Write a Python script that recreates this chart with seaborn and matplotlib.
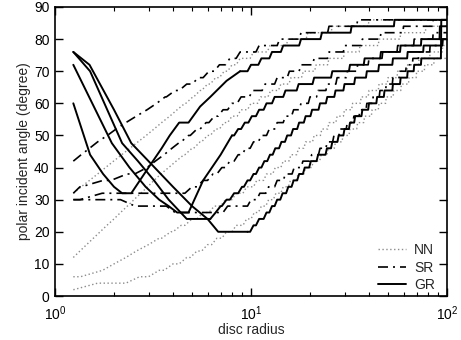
import numpy as np
import pandas as pd
import matplotlib
matplotlib.use("Agg")
import matplotlib.pyplot as plt
import seaborn as sns
from matplotlib.ticker import LogLocator, MultipleLocator, NullFormatter

# ---------------- data ----------------
# GR: falling part (straight segments) + rising part as 2-degree levels
gr1_head_r = [1.24, 1.51, 1.76, 2.0, 2.2, 2.45, 3.0, 3.5, 3.85, 4.3, 4.8, 5.5, 6.2, 7.5, 8.8]
gr1_head_a = [60, 44, 38, 34, 32, 32, 40, 46, 50, 54, 54, 59, 62, 67, 70]
gr1_tail_r = [8.8, 10, 11.3, 12.8, 14.6, 18, 23, 32.6, 54, 100]
gr1_tail_a = [70, 72, 74, 76, 78, 80, 82, 84, 86, 86]

gr2_head_r = [1.24, 1.95, 2.4, 2.9, 3.4, 3.8, 4.2, 4.8, 5.7, 7.0, 8.0]
gr2_head_a = [72, 47.6, 40, 34, 30, 28, 26, 26, 36, 44, 50]
gr2_tail_r = [8.0, 8.6, 9.3, 10.1, 11, 12, 13.2, 15, 17.5, 21, 26, 32, 38, 46, 58, 74, 92, 100]
gr2_tail_a = [50, 52, 54, 56, 58, 60, 62, 64, 66, 68, 70, 72, 74, 76, 78, 80, 84, 84]

gr3_head_r = [1.24, 1.51, 2.2, 2.65, 3.2, 3.8, 4.7, 6.2]
gr3_head_a = [76, 70, 47.6, 42, 36, 30, 24, 24]
gr3_tail_r = [6.2, 6.6, 7.0, 7.5, 8.2, 9.0, 9.6, 10.3, 11, 11.7, 12.5, 13.3, 14.3, 15.3, 16.4,
              17.6, 19, 20.5, 22.5, 24.5, 27, 30, 34, 39, 45, 53, 63, 76, 95, 100]
gr3_tail_a = [24, 26, 28, 30, 32, 34, 36, 38, 40, 42, 44, 46, 48, 50, 52,
              54, 56, 58, 60, 62, 64, 66, 68, 70, 72, 74, 76, 78, 80, 80]

gr4_head_r = [1.24, 1.5, 2.0, 2.45, 3.0, 4.0, 5.0, 6.0, 6.8, 9.6]
gr4_head_a = [76, 72, 58, 47.6, 42, 34, 28, 24, 20, 20]
gr4_tail_r = [9.6, 10.3, 11, 12, 12.8, 13.6, 14.5, 15.5, 16.5, 17.6, 18.8, 20.2, 22, 24.4, 26,
              28, 30, 32, 34, 37, 40, 44, 48, 53, 58, 63, 68, 74, 93.5, 100]
gr4_tail_a = [20, 22, 24, 26, 28, 30, 32, 34, 36, 38, 40, 42, 44, 46, 48,
              50, 52, 54, 56, 58, 60, 62, 64, 66, 68, 70, 72, 74, 86, 86]

# SR: 2-degree levels and the radius where each level begins
sr1_r = [1.24, 1.36, 1.5, 1.65, 1.85, 2.05, 2.3, 2.6, 2.95, 3.3, 3.65, 4.1, 4.7, 5.4, 6.1,
         6.9, 7.8, 8.8, 11, 14, 18, 25, 35, 100]
sr1_a = [42, 44, 46, 48, 50, 52, 54, 56, 58, 60, 62, 64, 66, 68, 70,
         72, 74, 76, 78, 80, 82, 84, 86, 86]
sr2_r = [1.24, 1.34, 1.76, 2.33, 2.95, 3.25, 3.6, 3.95, 4.35, 4.8, 5.3, 5.9, 6.5, 7.2, 8.0,
         8.9, 10.2, 11.8, 13.6, 15.7, 18, 21, 25, 30, 37, 46, 60, 85, 100]
sr2_a = [32, 34, 36, 38, 40, 42, 44, 46, 48, 50, 52, 54, 56, 58, 60,
         62, 64, 66, 68, 70, 72, 74, 76, 78, 80, 82, 84, 86, 86]
sr3_r = [1.24, 1.74, 5.0, 5.7, 6.4, 7.1, 7.8, 8.6, 9.4, 10.3, 11.3, 12.4, 13.6, 15, 16.5,
         18, 20, 22, 24.5, 27.5, 31, 35, 40, 47, 56, 68, 85, 100]
sr3_a = [30, 32, 34, 36, 38, 40, 42, 44, 46, 48, 50, 52, 54, 56, 58,
         60, 62, 64, 66, 68, 70, 72, 74, 76, 78, 80, 82, 82]
sr4_r = [1.24, 2.56, 4.1, 7.6, 10, 11.1, 12.3, 13.6, 15, 16.6, 18.4, 20.4, 22.5, 24.5, 26.5,
         28.5, 31, 33.5, 36, 39, 42, 45.5, 49, 53, 57.5, 62, 67, 72, 82, 95, 100]
sr4_a = [30, 28, 26, 28, 30, 32, 34, 36, 38, 40, 42, 44, 46, 48, 50,
         52, 54, 56, 58, 60, 62, 64, 66, 68, 70, 72, 74, 76, 78, 80, 80]

# NN: 2-degree levels and the radius where each level begins
nn1_r = [1.24, 1.36, 1.5, 1.65, 1.81, 1.99, 2.19, 2.41, 2.65, 2.92, 3.2, 3.5, 3.85, 4.2, 4.6,
         5.05, 5.5, 6.0, 6.6, 7.3, 8.0, 8.8, 10.3, 12.5, 15.5, 19.5, 26, 40, 100]
nn1_a = [32, 34, 36, 38, 40, 42, 44, 46, 48, 50, 52, 54, 56, 58, 60,
         62, 64, 66, 68, 70, 72, 74, 76, 78, 80, 82, 84, 86, 86]
nn2_r = [1.24, 1.34, 1.45, 1.57, 1.7, 1.84, 2.0, 2.16, 2.34, 2.53, 2.74, 2.97, 3.2, 3.47, 3.8,
         4.15, 4.55, 5.0, 5.5, 6.0, 6.6, 7.3, 8.0, 8.9, 10, 11.2, 12.6, 14.2, 16, 18.5,
         21.5, 25, 30, 36, 45, 58, 78, 100]
nn2_a = [12, 14, 16, 18, 20, 22, 24, 26, 28, 30, 32, 34, 36, 38, 40,
         42, 44, 46, 48, 50, 52, 54, 56, 58, 60, 62, 64, 66, 68, 70,
         72, 74, 76, 78, 80, 82, 84, 84]
nn3_r = [1.24, 1.75, 2.0, 2.3, 2.6, 3.0, 3.4, 3.9, 4.4, 5.0, 5.7, 6.5, 7.4, 8.4, 9.5,
         10.7, 12, 13.3, 14.6, 16, 17.5, 19, 21, 23, 25, 27.5, 30, 33, 36.5, 40,
         45, 50, 56, 63, 72, 82, 95, 100]
nn3_a = [6, 8, 10, 12, 14, 16, 18, 20, 22, 24, 26, 28, 30, 32, 34,
         36, 38, 40, 42, 44, 46, 48, 50, 52, 54, 56, 58, 60, 62, 64,
         66, 68, 70, 72, 74, 76, 78, 78]
nn4_r = [1.24, 1.65, 2.7, 3.4, 4.0, 4.7, 5.3, 6.0, 6.7, 7.5, 8.4, 9.5, 10.4, 11.3, 12.3,
         13.4, 14.6, 15.9, 17.4, 19, 20.8, 22.8, 24.8, 27, 29.5, 32, 35, 38, 41.5, 45,
         49, 53.5, 58.5, 64, 70, 77, 86, 100]
nn4_a = [2, 4, 6, 8, 10, 12, 14, 16, 18, 20, 22, 24, 26, 28, 30,
         32, 34, 36, 38, 40, 42, 44, 46, 48, 50, 52, 54, 56, 58, 60,
         62, 64, 66, 68, 70, 72, 74, 74]

nn_curves = [(nn1_r, nn1_a), (nn2_r, nn2_a), (nn3_r, nn3_a), (nn4_r, nn4_a)]
sr_curves = [(sr1_r, sr1_a), (sr2_r, sr2_a), (sr3_r, sr3_a), (sr4_r, sr4_a)]
gr_curves = [((gr1_head_r, gr1_head_a), (gr1_tail_r, gr1_tail_a)),
             ((gr2_head_r, gr2_head_a), (gr2_tail_r, gr2_tail_a)),
             ((gr3_head_r, gr3_head_a), (gr3_tail_r, gr3_tail_a)),
             ((gr4_head_r, gr4_head_a), (gr4_tail_r, gr4_tail_a))]

styles = {
    "NN": dict(color="#8c8c8c", linestyle=(0, (1, 1.8)), linewidth=1.0),
    "SR": dict(color="black", linestyle=(0, (6, 3, 1.2, 3)), linewidth=1.2),
    "GR": dict(color="black", linestyle="-", linewidth=1.4),
}
RISER = 0.4  # width (in radius units) of each sloping riser between levels

sns.set_theme(style="white")
plt.rcParams["font.family"] = ["Liberation Sans", "DejaVu Sans"]

fig = plt.figure(figsize=(4.61, 3.40), dpi=100)
ax = fig.add_axes([55 / 461, 1 - 296 / 340, (447 - 55) / 461, (296 - 7) / 340])


def stair_path(r, a):
    pr, pa = [r[0]], [a[0]]
    for k in range(1, len(r)):
        if a[k] != a[k - 1]:
            start = max(r[k - 1], r[k] - RISER)
            pr.append(start)
            pa.append(a[k - 1])
        pr.append(r[k])
        pa.append(a[k])
    return pr, pa


def draw(r, a, style, label=None, steps=False):
    if steps:
        r, a = stair_path(r, a)
    df = pd.DataFrame({"r": r, "a": a})
    sns.lineplot(data=df, x="r", y="a", ax=ax, sort=False, estimator=None,
                 label=label, **style)


for i, (r, a) in enumerate(nn_curves):
    draw(r, a, styles["NN"], "NN" if i == 0 else None, steps=True)
for i, (r, a) in enumerate(sr_curves):
    draw(r, a, styles["SR"], "SR" if i == 0 else None, steps=True)
for i, (head, tail) in enumerate(gr_curves):
    draw(head[0], head[1], styles["GR"], "GR" if i == 0 else None)
    draw(tail[0], tail[1], styles["GR"], None, steps=True)

ax.set_xscale("log")
ax.set_xlim(1, 100)
ax.set_ylim(0, 90)
ax.yaxis.set_major_locator(MultipleLocator(10))
ax.xaxis.set_major_locator(LogLocator(base=10))
ax.xaxis.set_minor_locator(LogLocator(base=10, subs=np.arange(2, 10)))
ax.xaxis.set_minor_formatter(NullFormatter())
ax.tick_params(axis="both", which="both", direction="in", top=True, right=True,
               bottom=True, left=True, labelsize=10, colors="black")
ax.tick_params(which="major", length=6, width=1)
ax.tick_params(which="minor", length=3, width=0.8)
ax.tick_params(axis="x", which="major", pad=6)
ax.tick_params(axis="y", which="major", pad=4)
for s in ax.spines.values():
    s.set_color("black")
    s.set_linewidth(1.2)
ax.set_xlabel("disc radius", fontsize=10, labelpad=0)
ax.set_ylabel("polar incident angle (degree)", fontsize=10, labelpad=2)
ax.legend(loc="lower right", bbox_to_anchor=(0.99, -0.015), frameon=False,
          fontsize=10, handlelength=2.0, handletextpad=0.6,
          labelspacing=0.25, borderaxespad=0.2)

fig.savefig("out.png", dpi=100)
